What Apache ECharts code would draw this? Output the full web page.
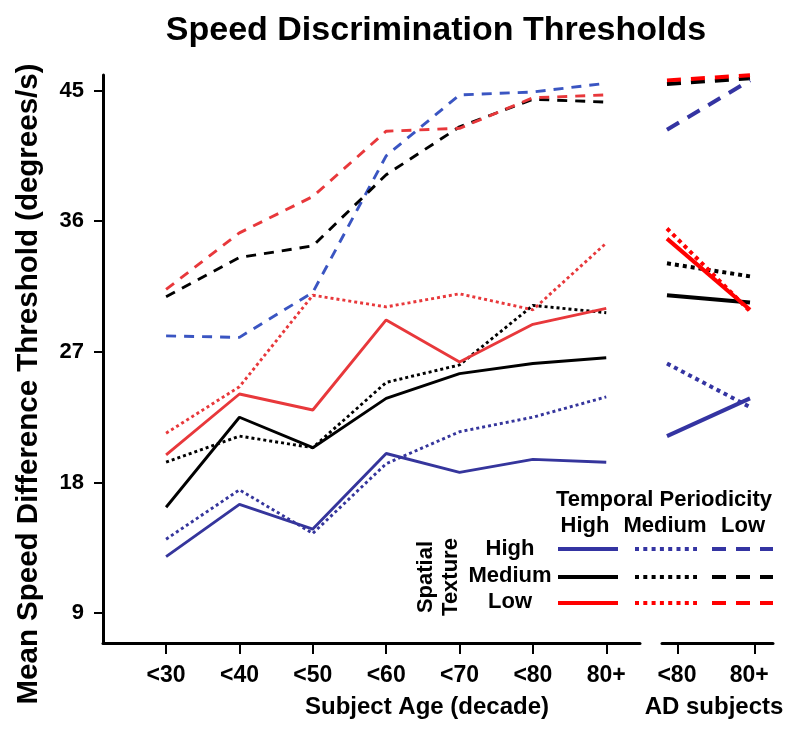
<!DOCTYPE html>
<html>
<head>
<meta charset="utf-8">
<script src="https://cdn.jsdelivr.net/npm/echarts@6/dist/echarts.min.js"></script>
<style>html,body{margin:0;padding:0;background:#fff}#c{width:800px;height:732px}</style>
</head>
<body>
<div id="c"></div>
<script>
// ---- data ----
const ageCats = ['<30', '<40', '<50', '<60', '<70', '<80', '80+'];
const adCats = ['<80', '80+'];
const yTicks = [9, 18, 27, 36, 45];

// main panel: spatial texture (High/Medium/Low) x temporal periodicity (High/Medium/Low)
const hiHi  = [12.9, 16.5, 14.8, 20.0, 18.7, 19.6, 19.4];
const hiMed = [14.1, 17.5, 14.5, 19.3, 21.5, 22.5, 23.9];
const hiLow = [28.1, 28.0, 31.1, 40.5, 44.7, 44.9, 45.5];
const medHi  = [16.3, 22.5, 20.4, 23.8, 25.5, 26.2, 26.6];
const medMed = [19.4, 21.2, 20.4, 24.9, 26.1, 30.2, 29.7];
const medLow = [30.8, 33.5, 34.3, 39.2, 42.5, 44.4, 44.2];
const lowHi  = [19.9, 24.1, 23.0, 29.2, 26.3, 28.9, 30.0];
const lowMed = [21.4, 24.6, 30.9, 30.1, 31.0, 29.9, 34.5];
const lowLow = [31.3, 35.2, 37.7, 42.2, 42.4, 44.5, 44.7];

// AD subjects panel
const adHiHi  = [21.2, 23.8];
const adHiMed = [26.2, 23.2];
const adHiLow = [42.3, 45.7];
const adMedHi  = [30.9, 30.4];
const adMedMed = [33.1, 32.2];
const adMedLow = [45.45, 45.85];
const adLowHi  = [34.8, 29.9];
const adLowMed = [35.5, 29.8];
const adLowLow = [45.7, 46.05];

// ---- styles ----
const FONT = "'Liberation Sans', Arial, Helvetica, sans-serif";
const C = {
  navy: '#35359c', blueDash: '#3a55c2', black: '#000000',
  red: '#e8383b', adRed: '#ff0000', adBlue: '#3434a2'
};
const mainDash = [10, 8], mainDot = [3, 3];
const adDash = [14, 10], adDot = [4, 4];

function pts(arr) { return arr.map((v, i) => [i, v]); }
function ser(name, arr, idx, color, type, width) {
  return {
    name: name, type: 'line', xAxisIndex: idx, yAxisIndex: idx,
    data: pts(arr), symbol: 'none', clip: false, silent: true,
    lineStyle: { color: color, width: width, type: type, cap: 'butt' },
    z: 3
  };
}

const series = [
  ser('hiLow', hiLow, 0, C.blueDash, mainDash, 2.9),
  ser('medLow', medLow, 0, C.black, mainDash, 2.9),
  ser('lowLow', lowLow, 0, C.red, mainDash, 2.9),
  ser('hiMed', hiMed, 0, C.navy, mainDot, 2.9),
  ser('medMed', medMed, 0, C.black, mainDot, 2.9),
  ser('lowMed', lowMed, 0, C.red, mainDot, 2.9),
  ser('hiHi', hiHi, 0, C.navy, 'solid', 2.9),
  ser('medHi', medHi, 0, C.black, 'solid', 2.9),
  ser('lowHi', lowHi, 0, C.red, 'solid', 2.9),

  ser('adMedLow', adMedLow, 1, C.black, adDash, 4),
  ser('adLowLow', adLowLow, 1, C.adRed, adDash, 4),
  ser('adHiLow', adHiLow, 1, C.adBlue, adDash, 4),
  ser('adMedMed', adMedMed, 1, C.black, adDot, 4),
  ser('adLowMed', adLowMed, 1, C.adRed, adDot, 4),
  ser('adHiMed', adHiMed, 1, C.adBlue, adDot, 4),
  ser('adMedHi', adMedHi, 1, C.black, 'solid', 4),
  ser('adLowHi', adLowHi, 1, C.adRed, 'solid', 4),
  ser('adHiHi', adHiHi, 1, C.adBlue, 'solid', 4)
];

const Y_MIN = 6.95, Y_MAX = 46.07;
const axisLine = { show: true, onZero: false, lineStyle: { color: '#000', width: 3 } };
const labelStyle = { color: '#000', fontFamily: FONT, fontWeight: 'bold', fontSize: 23 };

const option = {
  animation: false,
  backgroundColor: '#fff',
  grid: [
    { left: 103, top: 75, width: 537, height: 568 },
    { left: 662, top: 75, width: 111, height: 568 }
  ],
  xAxis: [
    {
      type: 'value', gridIndex: 0, min: -0.86, max: 6.46,
      axisLine: axisLine, splitLine: { show: false },
      axisTick: { show: true, length: 11, inside: false, lineStyle: { color: '#000', width: 2 },
        customValues: ageCats.map((c, i) => i) },
      axisLabel: Object.assign({ margin: 21, customValues: ageCats.map((c, i) => i),
        formatter: v => ageCats[Math.round(v)] }, labelStyle)
    },
    {
      type: 'value', gridIndex: 1, min: -0.06, max: 1.277,
      axisLine: axisLine, splitLine: { show: false },
      axisTick: { show: true, length: 11, lineStyle: { color: '#000', width: 2 },
        customValues: [0.13, 1.06] },
      axisLabel: Object.assign({ margin: 21, customValues: [0.12, 0.99],
        formatter: v => adCats[Math.round(v)] }, labelStyle)
    }
  ],
  yAxis: [
    {
      type: 'value', gridIndex: 0, min: Y_MIN, max: Y_MAX,
      axisLine: axisLine, splitLine: { show: false },
      axisTick: { show: true, length: 9, lineStyle: { color: '#000', width: 2 }, customValues: yTicks },
      axisLabel: Object.assign({ margin: 19, customValues: yTicks }, labelStyle, { fontSize: 22 })
    },
    {
      type: 'value', gridIndex: 1, min: Y_MIN, max: Y_MAX, show: false,
      splitLine: { show: false }
    }
  ],
  series: series,
  graphic: [
    { type: 'text', x: 436, y: 31, style: { text: 'Speed Discrimination Thresholds', font: "bold 34px " + FONT, fill: '#000', align: 'center', verticalAlign: 'middle' } },
    { type: 'text', x: 29, y: 384, rotation: Math.PI / 2, style: { text: 'Mean Speed Difference Threshold (degrees/s)', font: "bold 29.5px " + FONT, fill: '#000', align: 'center', verticalAlign: 'middle' } },
    { type: 'text', x: 427, y: 707, style: { text: 'Subject Age (decade)', font: "bold 24px " + FONT, fill: '#000', align: 'center', verticalAlign: 'middle' } },
    { type: 'text', x: 714, y: 707, style: { text: 'AD subjects', font: "bold 24px " + FONT, fill: '#000', align: 'center', verticalAlign: 'middle' } },

    // legend
    { type: 'text', x: 664, y: 500, style: { text: 'Temporal Periodicity', font: "bold 22px " + FONT, fill: '#000', align: 'center', verticalAlign: 'middle' } },
    { type: 'text', x: 585, y: 526, style: { text: 'High', font: "bold 22px " + FONT, fill: '#000', align: 'center', verticalAlign: 'middle' } },
    { type: 'text', x: 665, y: 526, style: { text: 'Medium', font: "bold 22px " + FONT, fill: '#000', align: 'center', verticalAlign: 'middle' } },
    { type: 'text', x: 743, y: 526, style: { text: 'Low', font: "bold 22px " + FONT, fill: '#000', align: 'center', verticalAlign: 'middle' } },
    { type: 'text', x: 510, y: 549, style: { text: 'High', font: "bold 22px " + FONT, fill: '#000', align: 'center', verticalAlign: 'middle' } },
    { type: 'text', x: 510, y: 576, style: { text: 'Medium', font: "bold 22px " + FONT, fill: '#000', align: 'center', verticalAlign: 'middle' } },
    { type: 'text', x: 510, y: 602, style: { text: 'Low', font: "bold 22px " + FONT, fill: '#000', align: 'center', verticalAlign: 'middle' } },
    { type: 'text', x: 426, y: 577, rotation: Math.PI / 2, style: { text: 'Spatial', font: "bold 22px " + FONT, fill: '#000', align: 'center', verticalAlign: 'middle' } },
    { type: 'text', x: 451, y: 577, rotation: Math.PI / 2, style: { text: 'Texture', font: "bold 22px " + FONT, fill: '#000', align: 'center', verticalAlign: 'middle' } }
  ].concat((function () {
    const rows = [[549, C.adBlue], [577, '#000'], [603, C.adRed]];
    const cols = [[558, 618, null], [635, 697, [4, 4.3]], [712, 773, [14, 10]]];
    const out = [];
    rows.forEach(r => cols.forEach(c => out.push({
      type: 'line', shape: { x1: c[0], y1: r[0], x2: c[1], y2: r[0] },
      style: { stroke: r[1], lineWidth: 4, lineDash: c[2] }
    })));
    return out;
  })())
};

const chart = echarts.init(document.getElementById('c'), null, { renderer: 'canvas' });
chart.setOption(option);
</script>
</body>
</html>
